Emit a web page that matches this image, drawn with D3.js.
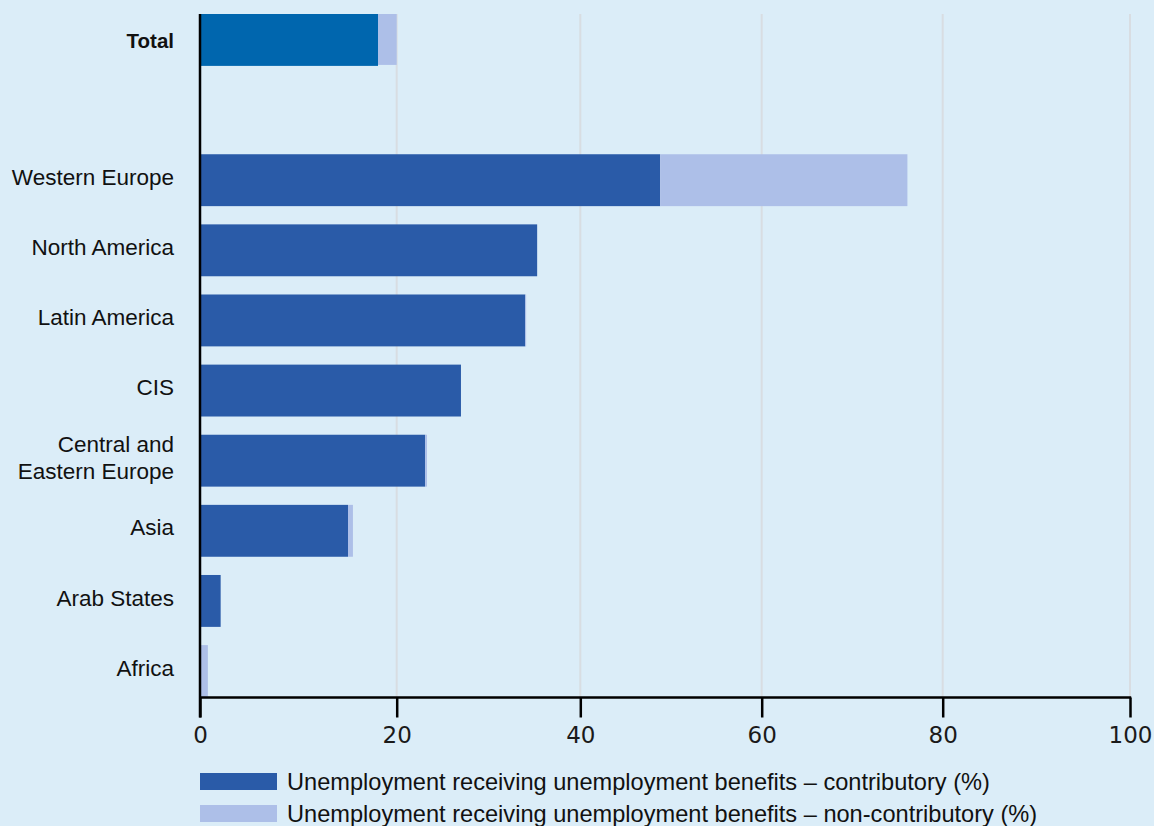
<!DOCTYPE html>
<html>
<head>
<meta charset="utf-8">
<script src="https://cdn.jsdelivr.net/npm/d3@7"></script>
<style>
  html, body { margin: 0; padding: 0; background: #dbedf8; }
  svg { display: block; }
  .cat { font-family: "Liberation Sans", Arial, sans-serif; font-size: 22.5px; fill: #111; }
  .tick-label { font-family: "DejaVu Sans", sans-serif; font-size: 23px; fill: #1a1a1a; }
  .legend-text { font-family: "Liberation Sans", Arial, sans-serif; font-size: 23.6px; fill: #111; }
</style>
</head>
<body>
<svg id="chart" width="1154" height="826"></svg>
<script>
// ---- data ----
const categories = ["Total", "", "Western Europe", "North America", "Latin America", "CIS",
  "Central and Eastern Europe", "Asia", "Arab States", "Africa"];
const categoryLines = {
  "Central and Eastern Europe": ["Central and", "Eastern Europe"]
};
const contributory =    [18.1, null, 48.8, 35.3, 34.0, 27.0, 23.1, 15.05, 2.1, 0.0];
const nonContributory = [1.9,  null, 27.3, 0.0,  0.1,  0.0,  0.2,  0.5,   0.0, 0.8];
const tickValues = [0, 20, 40, 60, 80, 100];
const seriesNames = [
  "Unemployment receiving unemployment benefits \u2013 contributory (%)",
  "Unemployment receiving unemployment benefits \u2013 non-contributory (%)"
];

// ---- colours ----
const darkBlue = "#2a5ba8";
const totalBlue = "#0066ae";
const lightBlue = "#adbfe8";

const svg = d3.select("#chart");

// axis positions as drawn in the reference (slightly non-uniform tick spacing)
const x = d3.scaleLinear()
  .domain(tickValues)
  .range([200, 396.7, 580.3, 761.7, 942.7, 1130]);

const y = d3.scaleBand()
  .domain(categories.map((c, i) => i))
  .range([14, 697])
  .paddingInner(0.26)
  .paddingOuter(0);

const axisY = 697.5;

// gridlines
svg.append("g").selectAll("line")
  .data(tickValues.filter(d => d > 0))
  .join("line")
  .attr("x1", d => x(d)).attr("x2", d => x(d))
  .attr("y1", 14).attr("y2", axisY)
  .attr("stroke", "#d8dde2").attr("stroke-width", 2);

// bars
const rows = categories.map((c, i) => ({ c, i, a: contributory[i], b: nonContributory[i] }))
  .filter(d => d.c !== "");

const bars = svg.append("g");
bars.selectAll("rect.contrib")
  .data(rows.filter(d => d.a > 0))
  .join("rect")
  .attr("class", "contrib")
  .attr("x", x(0))
  .attr("y", d => y(d.i))
  .attr("width", d => x(d.a) - x(0))
  .attr("height", y.bandwidth())
  .attr("fill", d => d.c === "Total" ? totalBlue : darkBlue);

bars.selectAll("rect.noncontrib")
  .data(rows.filter(d => d.b > 0))
  .join("rect")
  .attr("class", "noncontrib")
  .attr("x", d => x(d.a))
  .attr("y", d => y(d.i))
  .attr("width", d => x(d.a + d.b) - x(d.a))
  .attr("height", d => d.c === "Total" ? y.bandwidth() - 1 : y.bandwidth())
  .attr("fill", lightBlue);

// x axis
const xAxis = d3.axisBottom(x).tickValues(tickValues).tickSize(20).tickPadding(6).tickFormat(d3.format("d"));
const gx = svg.append("g").attr("transform", `translate(0,${axisY})`).call(xAxis);
gx.select(".domain").remove();
gx.selectAll(".tick line").attr("stroke", "#000").attr("stroke-width", 2.5);
gx.selectAll(".tick text").attr("class", "tick-label").attr("dy", "0.75em").attr("y", 28);
svg.append("line")
  .attr("x1", 200).attr("x2", 1131.2)
  .attr("y1", axisY).attr("y2", axisY)
  .attr("stroke", "#000").attr("stroke-width", 2.5);

// y axis line
svg.append("line")
  .attr("x1", 200).attr("x2", 200)
  .attr("y1", 14).attr("y2", axisY + 20)
  .attr("stroke", "#000").attr("stroke-width", 2.5);

// category labels
const labels = svg.append("g");
rows.forEach(d => {
  const lines = categoryLines[d.c] || [d.c];
  const isTotal = d.c === "Total";
  const cy = y(d.i) + y.bandwidth() / 2 + (isTotal ? 0.5 : -3.5);
  const t = labels.append("text")
    .attr("class", "cat")
    .attr("text-anchor", "end")
    .attr("x", 174)
    .attr("font-weight", isTotal ? "bold" : null)
    .style("font-size", isTotal ? "20.5px" : null);
  lines.forEach((ln, k) => {
    t.append("tspan")
      .attr("x", 174)
      .attr("y", cy + (k - (lines.length - 1) / 2) * 27)
      .attr("dy", "0.36em")
      .text(ln);
  });
});

// legend
const legend = svg.append("g");
const legendColors = [darkBlue, lightBlue];
seriesNames.forEach((name, k) => {
  const ly = 773 + k * 32;
  legend.append("rect").attr("x", 200).attr("y", ly).attr("width", 77).attr("height", 17).attr("fill", legendColors[k]);
  legend.append("text").attr("class", "legend-text").attr("x", 287).attr("y", ly + 8.5).attr("dy", "0.36em").text(name);
});
</script>
</body>
</html>
